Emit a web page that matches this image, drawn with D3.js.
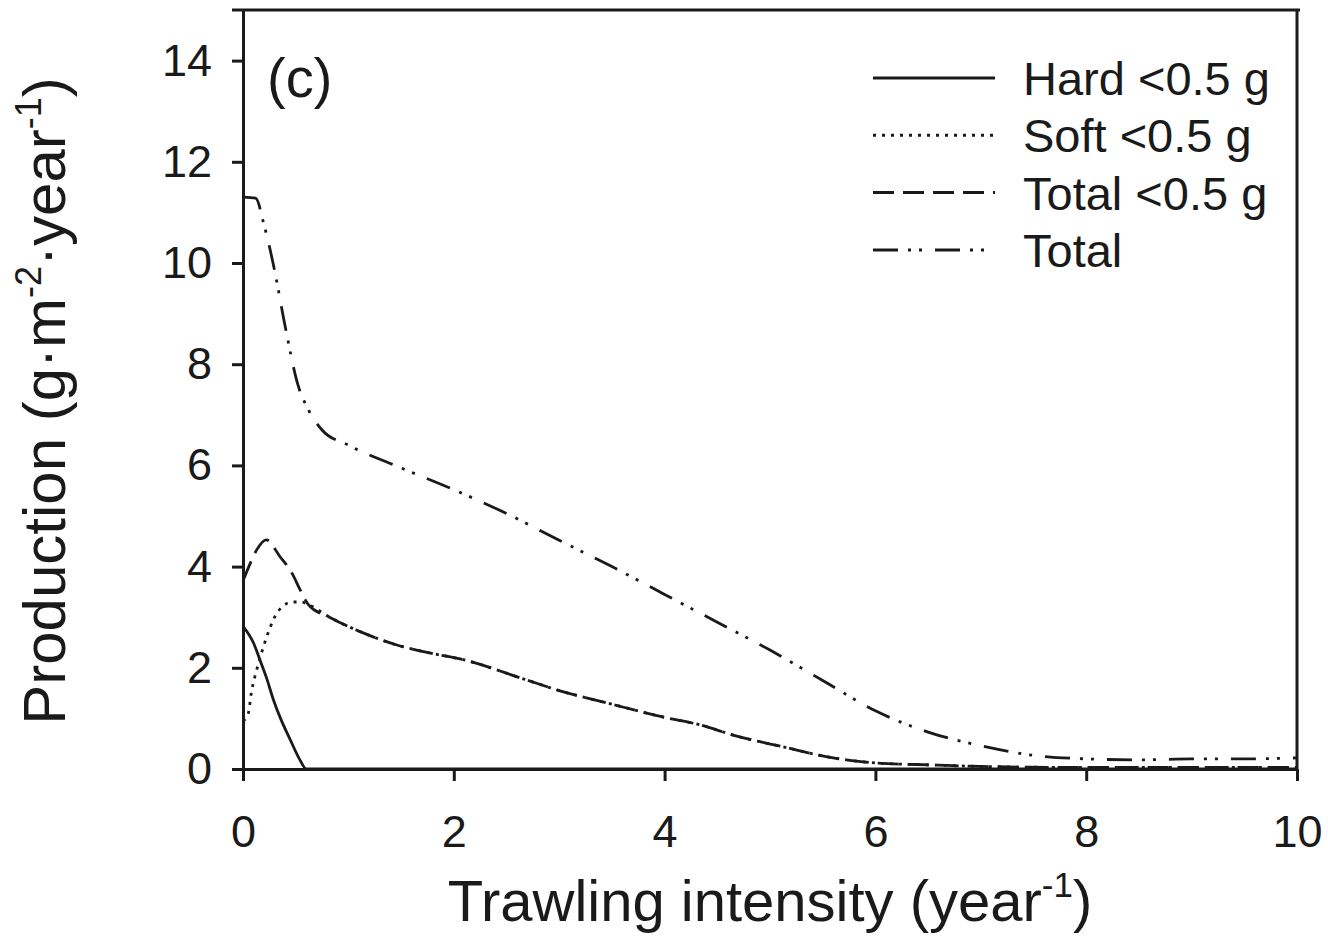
<!DOCTYPE html>
<html>
<head>
<meta charset="utf-8">
<script src="https://cdn.jsdelivr.net/npm/d3@7"></script>
<style>
  html, body { margin: 0; padding: 0; background: #fff; }
  svg { display: block; }
  .axis path, .axis line { stroke: #1a1a1a; stroke-width: 3; }
  .axis text { font-family: "Liberation Sans", Arial, sans-serif; font-size: 45px; fill: #1a1a1a; }
  .curve { fill: none; stroke: #1a1a1a; stroke-width: 2.8; }
  .label { font-family: "Liberation Sans", Arial, sans-serif; fill: #1a1a1a; }
</style>
</head>
<body>
<svg id="chart" width="1328" height="936"></svg>
<script>
// ----------------------------
// DATA
// ----------------------------
const totalX = [0, 0.12, 0.2, 0.3, 0.4, 0.52, 0.62, 0.75, 1, 1.5, 2, 2.5, 3, 3.5, 4, 4.5, 5, 5.5, 6, 6.5, 7, 7.5, 8, 8.5, 9, 9.5, 10];
const totalY = [11.3, 11.28, 10.75, 9.85, 8.75, 7.6, 7.1, 6.7, 6.4, 5.95, 5.52, 5.05, 4.52, 4.0, 3.45, 2.9, 2.35, 1.75, 1.15, 0.73, 0.46, 0.27, 0.2, 0.18, 0.2, 0.2, 0.22];

const total05X = [0, 0.07, 0.13, 0.22, 0.35, 0.47, 0.54, 0.62, 0.83, 1.14, 1.46, 1.78, 2.09, 2.69, 3, 3.5, 4, 4.34, 4.65, 5.12, 5.6, 6, 6.55, 7, 8, 9, 10];
const total05Y = [3.72, 4.07, 4.33, 4.53, 4.2, 3.85, 3.55, 3.25, 2.99, 2.69, 2.45, 2.29, 2.16, 1.76, 1.55, 1.28, 1.02, 0.87, 0.67, 0.44, 0.22, 0.12, 0.08, 0.05, 0.03, 0.03, 0.03];

const softX = [0, 0.05, 0.08, 0.13, 0.19, 0.26, 0.3, 0.38, 0.47, 0.55, 0.62, 0.83, 1.14, 1.46, 1.78, 2.09, 2.69, 3, 3.5, 4, 4.34, 4.65, 5.12, 5.6, 6, 6.55, 7, 8, 9, 10];
const softY = [0.95, 1.1, 1.52, 1.96, 2.39, 2.81, 3.0, 3.22, 3.3, 3.3, 3.25, 2.99, 2.69, 2.45, 2.29, 2.16, 1.76, 1.55, 1.28, 1.02, 0.87, 0.67, 0.44, 0.22, 0.12, 0.08, 0.05, 0.03, 0.03, 0.03];

const hardX = [0, 0.1, 0.16, 0.22, 0.29, 0.35, 0.45, 0.54, 0.6, 1, 2, 4, 6, 8, 10];
const hardY = [2.82, 2.49, 2.16, 1.82, 1.36, 1.03, 0.57, 0.18, 0, 0, 0, 0, 0, 0, 0];

const xTicks = [0, 2, 4, 6, 8, 10];
const yTicks = [0, 2, 4, 6, 8, 10, 12, 14];

const legendNames = ["Hard <0.5 g", "Soft <0.5 g", "Total <0.5 g", "Total"];

// ----------------------------
// CHART
// ----------------------------
const svg = d3.select("#chart");

const x = d3.scaleLinear().domain([0, 10]).range([243, 1297]);
const y = d3.scaleLinear().domain([0, 15]).range([769, 10]);

const series = [
  { xs: hardX, ys: hardY, dash: null },
  { xs: softX, ys: softY, dash: "3,6" },
  { xs: total05X, ys: total05Y, dash: "21,9" },
  { xs: totalX, ys: totalY, dash: "25,10,3,8,3,13" }
];

const line = d3.line()
  .x(d => x(d[0]))
  .y(d => y(d[1]))
  .curve(d3.curveMonotoneX);

// frame (top and right)
svg.append("line")
  .attr("x1", x(0) - 11).attr("x2", x(10) + 3)
  .attr("y1", y(15)).attr("y2", y(15))
  .attr("stroke", "#1a1a1a").attr("stroke-width", 3);
svg.append("line")
  .attr("x1", x(10)).attr("x2", x(10))
  .attr("y1", y(15)).attr("y2", y(0))
  .attr("stroke", "#1a1a1a").attr("stroke-width", 3);

// curves
svg.selectAll("path.curve")
  .data(series)
  .join("path")
  .attr("class", "curve")
  .attr("stroke-dasharray", d => d.dash)
  .attr("d", d => line(d.xs.map((v, i) => [v, d.ys[i]])));

// axes
svg.append("g")
  .attr("class", "axis")
  .attr("transform", `translate(0,${y(0)})`)
  .call(d3.axisBottom(x).tickValues(xTicks).tickSize(12).tickSizeOuter(0).tickPadding(34));

svg.append("g")
  .attr("class", "axis")
  .attr("transform", `translate(${x(0)},0)`)
  .call(d3.axisLeft(y).tickValues(yTicks).tickSize(11).tickSizeOuter(0).tickPadding(20));

// panel label
svg.append("text")
  .attr("class", "label")
  .attr("x", 267).attr("y", 97)
  .style("font-size", "56px")
  .text("(c)");

// legend
const legend = svg.append("g").attr("transform", "translate(873,78)");
const rows = legend.selectAll("g")
  .data(series)
  .join("g")
  .attr("transform", (d, i) => `translate(0,${i * 57.3})`);

rows.append("line")
  .attr("x1", 0).attr("x2", 122)
  .attr("stroke", "#1a1a1a").attr("stroke-width", 3)
  .attr("stroke-dasharray", d => d.dash);

rows.append("text")
  .attr("class", "label")
  .attr("x", 150).attr("y", 17)
  .style("font-size", "47px")
  .text((d, i) => legendNames[i]);

// axis titles
const xt = svg.append("text")
  .attr("class", "label")
  .attr("x", 770).attr("y", 921)
  .attr("text-anchor", "middle")
  .style("font-size", "58px");
xt.append("tspan").text("Trawling intensity (year");
xt.append("tspan").attr("dy", -24).style("font-size", "35px").text("-1");
xt.append("tspan").attr("dy", 24).text(")");

const yt = svg.append("text")
  .attr("class", "label")
  .attr("transform", "translate(65,401) rotate(-90)")
  .attr("text-anchor", "middle")
  .style("font-size", "60px");
yt.append("tspan").text("Production (g·m");
yt.append("tspan").attr("dy", -24).style("font-size", "36px").text("-2");
yt.append("tspan").attr("dy", 24).text("·year");
yt.append("tspan").attr("dy", -24).style("font-size", "36px").text("-1");
yt.append("tspan").attr("dy", 24).text(")");
</script>
</body>
</html>
